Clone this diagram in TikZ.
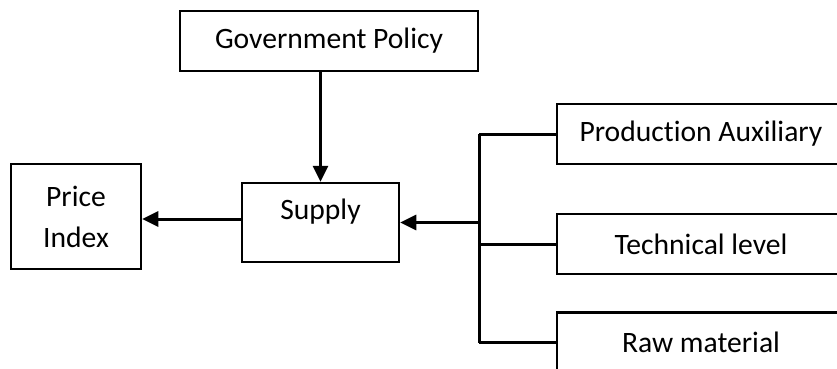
\documentclass[tikz,border=0pt]{standalone}
\usepackage{fontspec}
\setmainfont{Carlito}[RawFeature=-liga]
\usetikzlibrary{arrows.meta}
\tikzset{
    box/.style  = {draw=black, line width=2.5pt, fill=white, inner sep=0pt, align=center,
                   font=\fontsize{29.6}{41}\selectfont},
    wire/.style = {line width=3pt},
    flow/.style = {wire, -{Triangle[length=16pt,width=15pt]}}
}

\begin{document}
\begin{tikzpicture}[x=1pt,y=-1pt]
            \useasboundingbox                                              (0,0) rectangle (837,368);
            \clip                                                          (0,0) rectangle (837,368);
            \node[box, minimum width=298pt, minimum height=60pt] (gov)    at (329.0,  41.0) {Government Policy};
            \node[box, minimum width=157pt, minimum height=79pt,
                  text depth=27pt]                                (supply) at (320.5, 222.5) {Supply};
            \node[box, minimum width=130pt, minimum height=105pt] (price) at ( 76.0, 216.5) {Price\\Index};
            \node[box, minimum width=288pt, minimum height=60pt] (aux)    at (701.0, 134.0) {Production Auxiliary};
            \node[box, minimum width=288pt, minimum height=60pt] (tech)   at (701.0, 244.0) {Technical level};
            \node[box, minimum width=288pt, minimum height=60pt] (raw)    at (701.0, 342.5) {Raw material};
            \coordinate (bus) at (479.0, 222.5);
            % government policy acts on supply
            \draw[flow] (supply.north |- gov.south) -- (supply.north);
            % supply drives the price index
            \draw[flow] ([yshift=3.5pt]supply.west) -- ([yshift=3.5pt]supply.west -| price.east);
            % factors collected on one bus
            \draw[wire] (bus |- aux.west) -- (bus |- raw.west);
            \foreach \f in {aux, tech, raw}
                \draw[wire] (bus |- \f.west) -- (\f.west);
            \draw[flow] (bus) -- (supply.east);
\end{tikzpicture}
\end{document}
